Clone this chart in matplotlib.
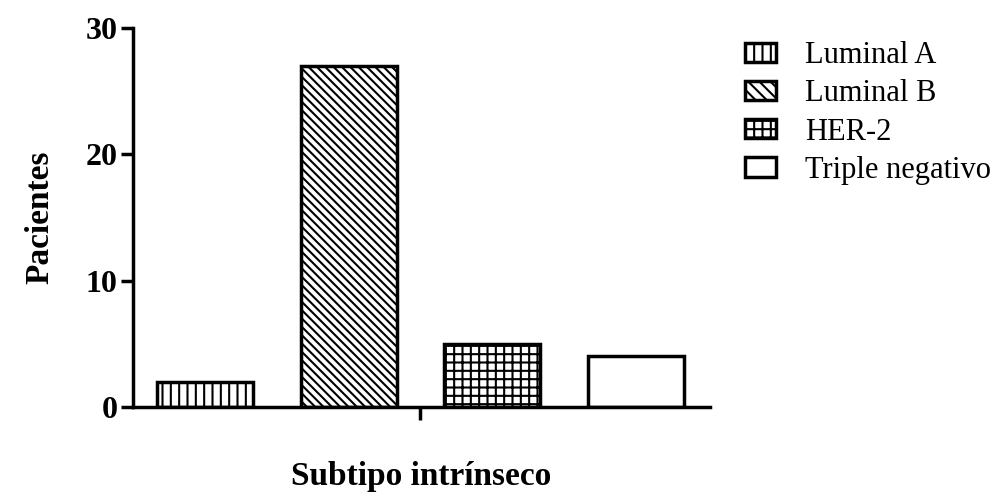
import numpy as np
import matplotlib.pyplot as plt
from matplotlib.patches import Patch

# Data
categorias = ['Luminal A', 'Luminal B', 'HER-2', 'Triple negativo']
pacientes = [2, 27, 5, 4]
tramas = ['||', '\\\\\\\\', '++', '']

plt.rcParams['font.family'] = ['Liberation Serif', 'DejaVu Serif']
plt.rcParams['hatch.linewidth'] = 1.5

fig = plt.figure(figsize=(10.07, 4.95), dpi=100)
ax = fig.add_axes([0.132, 0.178, 0.573, 0.765])

x = np.arange(len(categorias))
bars = ax.bar(x, pacientes, width=0.67, color='white', edgecolor='black',
              linewidth=2.5, zorder=2)
for b, h in zip(bars, tramas):
    b.set_hatch(h)

ax.set_xlim(-0.503, 3.517)
ax.set_ylim(0, 30)
ax.set_yticks([0, 10, 20, 30])
ax.set_xticks([1.5])
ax.set_xticklabels([''])
for s in ['top', 'right']:
    ax.spines[s].set_visible(False)
for s in ['left', 'bottom']:
    ax.spines[s].set_linewidth(2.5)
ax.tick_params(axis='both', width=2.5, length=9, direction='out', pad=2)
for lbl in ax.get_yticklabels():
    lbl.set_fontsize(23)
    lbl.set_fontweight('bold')

ax.set_ylabel('Pacientes', fontsize=24, fontweight='bold', labelpad=22)
ax.set_xlabel('Subtipo intrínseco', fontsize=24, fontweight='bold', labelpad=28)

handles = [Patch(facecolor='white', edgecolor='black', linewidth=2.5, hatch=h)
           for h in ['||', '\\\\\\', '++', '']]
fig.legend(handles, categorias, loc='upper left', bbox_to_anchor=(0.719, 0.96),
           frameon=False, fontsize=22, handlelength=1.0, handleheight=0.6,
           labelspacing=0.3, handletextpad=0.95, borderpad=0.2)

fig.savefig('out.png', dpi=100)
